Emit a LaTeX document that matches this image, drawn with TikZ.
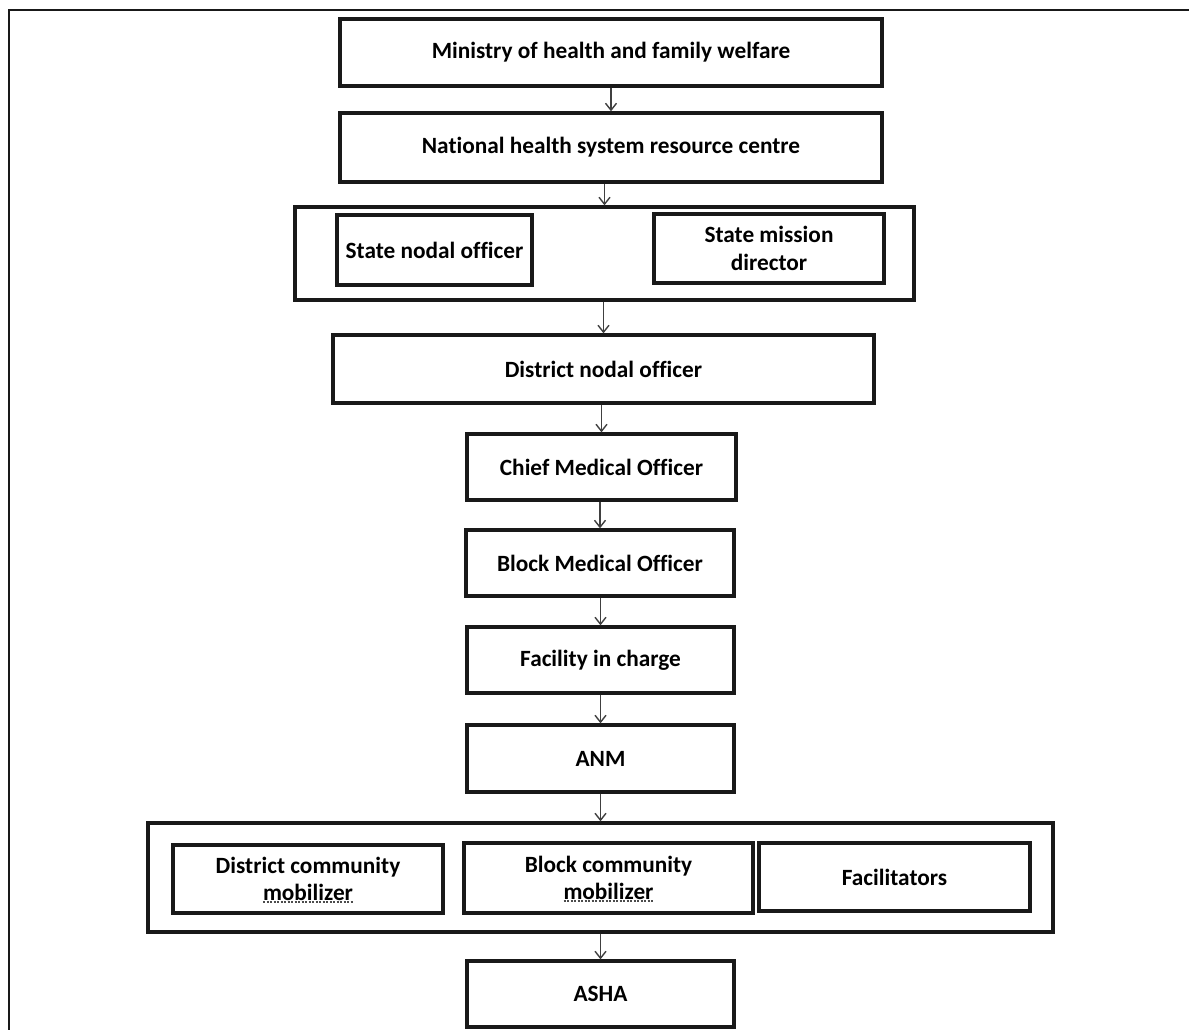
\documentclass[tikz,border=0pt]{standalone}
\usepackage{fontspec}
\setmainfont{Carlito}[Ligatures=NoCommon]
\usetikzlibrary{arrows.meta}
\tikzset{
  box/.style={draw=black!90, line width=3.3pt, inner sep=0pt, align=center,
    font=\fontsize{23.3}{27.5}\selectfont\bfseries},
  frame/.style={draw=black!90, line width=3.3pt, inner sep=0pt},
  arr/.style={draw=black!75, line width=1.4pt, -{Straight Barb[length=7pt,width=11pt,line width=1.4pt]}},
  border/.style={draw=black!90, line width=2.6pt},
  spell/.style={draw=black!70, line width=2pt, dash pattern=on 2pt off 1.5pt}
}
\begin{document}
\begin{tikzpicture}[x=1pt,y=-1pt]
\useasboundingbox (0,0) rectangle (1189,1030);
\coordinate (fbl) at (9,1030);
\coordinate (ftl) at (9,10);
\coordinate (ftr) at (1189,10);
\draw[border] (fbl) -- (ftl) -- (ftr);

\node[box, minimum width=542pt, minimum height=67pt] (min) at (611,52.5) {Ministry of health and family welfare};
\node[box, minimum width=542pt, minimum height=69pt] (nhs) at (611,147.5) {National health system resource centre};
\node[frame, minimum width=619pt, minimum height=93pt] (state) at (604.5,253.5) {};
\node[box, minimum width=195pt, minimum height=70pt] (sno) at (434.5,250) {State nodal officer};
\node[box, minimum width=230pt, minimum height=69pt] (smd) at (769,248.5) {State mission\\director};
\node[box, minimum width=541pt, minimum height=68pt] (dno) at (603.5,369) {District nodal officer};
\node[box, minimum width=269pt, minimum height=66pt] (cmo) at (601.5,467) {Chief Medical Officer};
\node[box, minimum width=268pt, minimum height=66pt] (bmo) at (600,563) {Block Medical Officer};
\node[box, minimum width=267pt, minimum height=66pt] (fic) at (600.5,660) {Facility in charge};
\node[box, minimum width=267pt, minimum height=67pt] (anm) at (600.5,758.5) {ANM};
\node[frame, minimum width=905pt, minimum height=109pt] (comm) at (600.5,877.5) {};
\node[box, minimum width=270pt, minimum height=68pt] (dcm) at (308,879) {District community\\mobilizer};
\node[box, minimum width=289pt, minimum height=70pt] (bcm) at (608.5,878) {Block community\\mobilizer};
\node[box, minimum width=271pt, minimum height=68pt] (fac) at (894.5,877) {Facilitators};
\node[box, minimum width=267pt, minimum height=66pt] (asha) at (600.5,994) {ASHA};

\draw[spell] ([shift={(-45,23)}]dcm.center) -- ([shift={(45,23)}]dcm.center);
\draw[spell] ([shift={(-45,23)}]bcm.center) -- ([shift={(45,23)}]bcm.center);

\draw[arr] (min.south) -- (nhs.north);
\draw[arr] (nhs.south -| state.north) -- (state.north);
\draw[arr] (state.south -| dno.north) -- (dno.north);
\draw[arr] (dno.south -| cmo.north) -- (cmo.north);
\draw[arr] (cmo.south -| bmo.north) -- (bmo.north);
\draw[arr] (bmo.south -| fic.north) -- (fic.north);
\draw[arr] (fic.south) -- (anm.north);
\draw[arr] (anm.south) -- (comm.north);
\draw[arr] (comm.south -| asha.north) -- (asha.north);
\end{tikzpicture}
\end{document}
